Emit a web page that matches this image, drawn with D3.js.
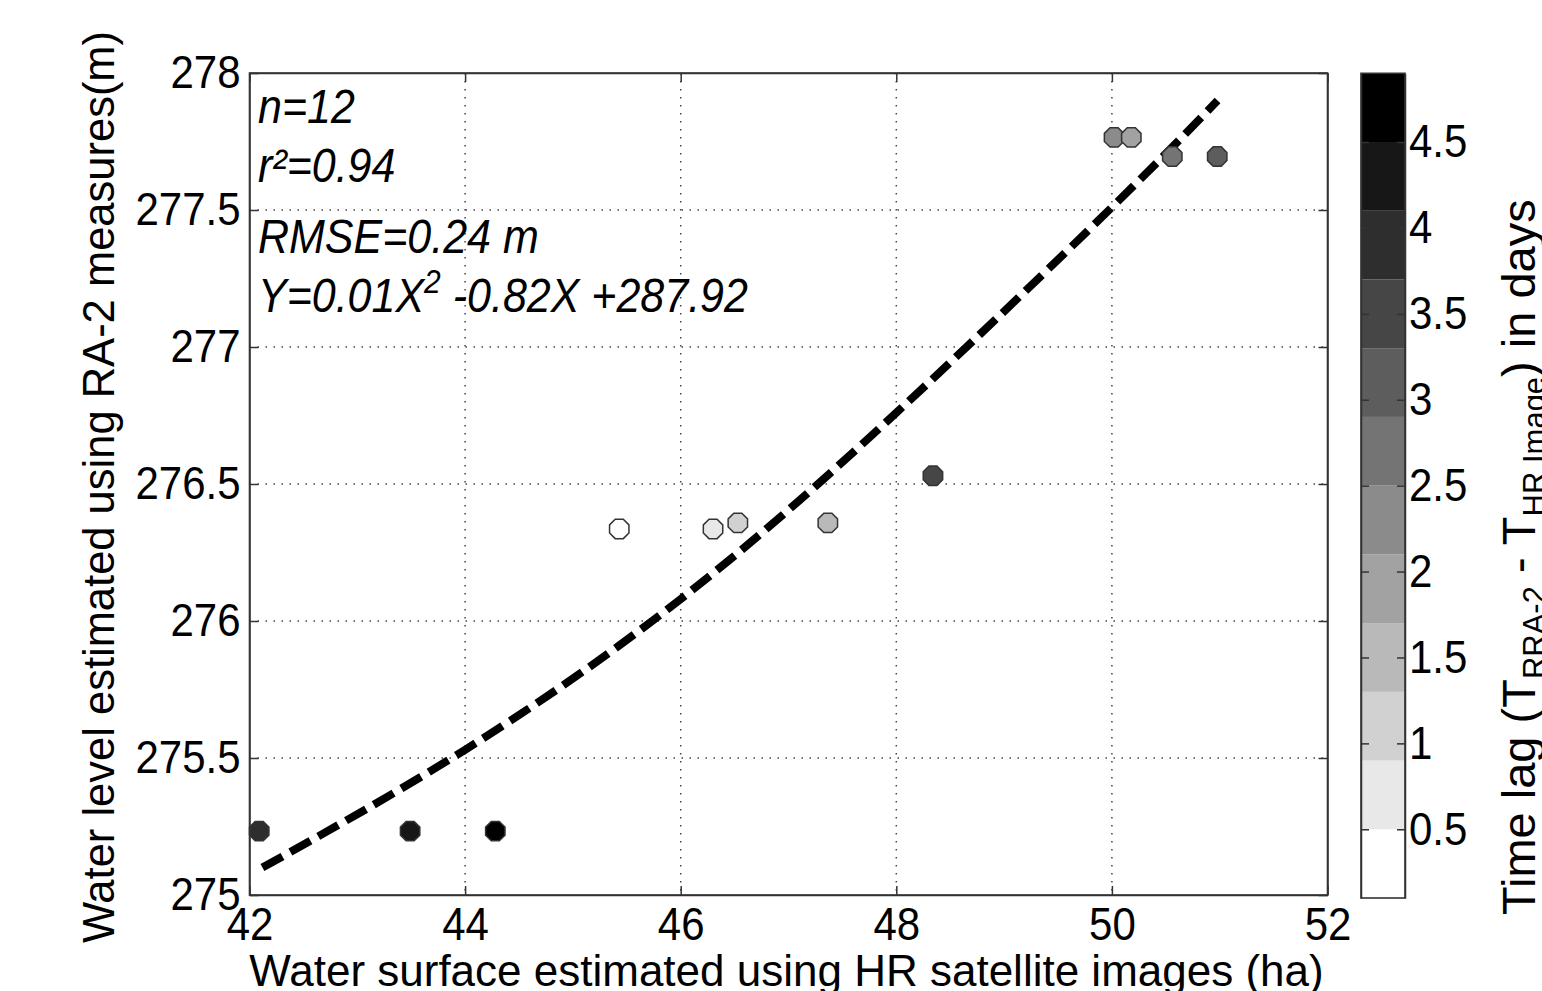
<!DOCTYPE html>
<html lang="en">
  <head>
    <meta charset="UTF-8" />
    <title>Water level vs water surface</title>
    <style>
      body { margin: 0; background: #fff; }
      svg { display: block; font-family: "Liberation Sans", Arial, sans-serif; }
      .axis path, .axis line { stroke: #333; stroke-width: 1.5; }
      .axis text, .stretch { font-size: 42px; fill: #000;
        transform-box: fill-box; transform-origin: center; transform: scaleY(1.1); }
      .grid line { stroke: #444; stroke-width: 1.5; stroke-dasharray: 1.5,6.5; }
    </style>
  </head>
  <body>
    <script src="https://cdn.jsdelivr.net/npm/d3@7/dist/d3.min.js"></script>
    <script>
    // point data
    var surface = [42.09, 43.49, 44.28, 45.43, 46.30, 46.53, 47.365, 48.34, 50.02, 50.18, 50.56, 50.977];
    var level   = [275.233, 275.233, 275.233, 276.336, 276.336, 276.358, 276.358, 276.53, 277.765, 277.765, 277.695, 277.695];
    var timeLag = [3.9, 4.3, 4.7, 0.3, 0.7, 1.1, 1.5, 3.5, 2.3, 1.9, 2.7, 3.1];

    // dashed fit curve
    var fitX = [42.12, 44, 46, 48, 50, 50.98];
    var fitY = [275.10, 275.53, 276.08, 276.76, 277.51, 277.90];

    var xTicks = [42, 44, 46, 48, 50, 52];
    var yTicks = [275, 275.5, 276, 276.5, 277, 277.5, 278];
    var cbTicks = [0.5, 1, 1.5, 2, 2.5, 3, 3.5, 4, 4.5];
    var cbRange = [0.1, 4.9];
    var nLevels = 12;

    var statLines = ["n=12", "r²=0.94", "RMSE=0.24 m"];

    var width = 1542, height = 991;
    var plot = {left: 249.5, right: 1327.5, top: 73, bottom: 895};
    var cb = {left: 1361, right: 1405, top: 73.3, bottom: 898};

    var svg = d3.select("body").append("svg")
                .attr("width", width)
                .attr("height", height);

    var xScale = d3.scaleLinear().domain([42, 52]).range([plot.left, plot.right]);
    var yScale = d3.scaleLinear().domain([275, 278]).range([plot.bottom, plot.top]);

    // 12-step gray colormap, white at low values
    var levelScale = d3.scaleQuantize().domain(cbRange).range(d3.range(nLevels));
    function grayFor(v) {
      var k = levelScale(v);
      var g = Math.round(255 * (1 - k / (nLevels - 1)));
      return d3.rgb(g, g, g).toString();
    }

    // grid
    svg.append("g").attr("class", "grid")
       .selectAll("line").data(xTicks.slice(1, -1)).enter().append("line")
       .attr("x1", function(d) { return xScale(d); })
       .attr("x2", function(d) { return xScale(d); })
       .attr("y1", plot.top).attr("y2", plot.bottom);
    svg.append("g").attr("class", "grid")
       .selectAll("line").data(yTicks.slice(1, -1)).enter().append("line")
       .attr("y1", function(d) { return yScale(d); })
       .attr("y2", function(d) { return yScale(d); })
       .attr("x1", plot.left).attr("x2", plot.right);

    // axes, ticks pointing inward on all four sides
    svg.append("g").attr("class", "axis")
       .attr("transform", "translate(0," + plot.bottom + ")")
       .call(d3.axisBottom(xScale).tickValues(xTicks).tickFormat(d3.format("d"))
             .tickSizeInner(-9).tickSizeOuter(0).tickPadding(14));
    svg.append("g").attr("class", "axis")
       .attr("transform", "translate(0," + plot.top + ")")
       .call(d3.axisTop(xScale).tickValues(xTicks).tickFormat("")
             .tickSizeInner(-9).tickSizeOuter(0));
    svg.append("g").attr("class", "axis")
       .attr("transform", "translate(" + plot.left + ",0)")
       .call(d3.axisLeft(yScale).tickValues(yTicks).tickFormat(function(d) { return String(d); })
             .tickSizeInner(-9).tickSizeOuter(0).tickPadding(9));
    svg.append("g").attr("class", "axis")
       .attr("transform", "translate(" + plot.right + ",0)")
       .call(d3.axisRight(yScale).tickValues(yTicks).tickFormat("")
             .tickSizeInner(-9).tickSizeOuter(0));

    svg.append("rect")
       .attr("x", plot.left).attr("y", plot.top)
       .attr("width", plot.right - plot.left).attr("height", plot.bottom - plot.top)
       .style("fill", "none").style("stroke", "#333").style("stroke-width", 1.6);

    // fit curve
    var fitLine = d3.line()
                    .x(function(d) { return xScale(d[0]); })
                    .y(function(d) { return yScale(d[1]); })
                    .curve(d3.curveNatural);
    svg.append("path")
       .datum(d3.zip(fitX, fitY))
       .attr("d", fitLine)
       .style("fill", "none")
       .style("stroke", "#000")
       .style("stroke-width", 8)
       .style("stroke-dasharray", "23,9");

    // octagon markers
    var octagon = d3.range(8).map(function(i) {
      var a = Math.PI / 8 + i * Math.PI / 4;
      return [10.5 * Math.cos(a), 10.5 * Math.sin(a)];
    });
    svg.append("g").selectAll("path")
       .data(d3.range(surface.length))
       .enter()
       .append("path")
       .attr("transform", function(i) {
         return "translate(" + xScale(surface[i]) + "," + yScale(level[i]) + ")";
       })
       .attr("d", "M" + octagon.join("L") + "Z")
       .style("fill", function(i) { return grayFor(timeLag[i]); })
       .style("stroke", "#333")
       .style("stroke-width", 1.5);

    // stats text
    var stats = svg.append("g").style("font-style", "italic");
    stats.selectAll("text").data(statLines).enter().append("text")
         .attr("class", "stretch")
         .style("font-size", "43px")
         .attr("x", 258)
         .attr("y", function(d, i) { return [122, 181, 252][i]; })
         .text(function(d) { return d; });
    var eq = stats.append("text").attr("class", "stretch")
                  .style("font-size", "43px")
                  .attr("x", 258).attr("y", 310);
    eq.append("tspan").text("Y=0.01X");
    eq.append("tspan").attr("dy", -17).style("font-size", "30px").text("2");
    eq.append("tspan").attr("dy", 17).text(" -0.82X +287.92");

    // axis titles
    svg.append("text")
       .attr("x", (plot.left + plot.right) / 2 - 2)
       .attr("y", 986)
       .attr("text-anchor", "middle")
       .style("font-size", "44px")
       .text("Water surface estimated using HR satellite images (ha)");
    svg.append("text")
       .attr("transform", "translate(114," + ((plot.top + plot.bottom) / 2 + 3) + ") rotate(-90)")
       .attr("text-anchor", "middle")
       .style("font-size", "43.5px")
       .text("Water level estimated using RA-2 measures(m)");

    // colorbar
    var cbScale = d3.scaleLinear().domain(cbRange).range([cb.bottom, cb.top]);
    var step = (cbRange[1] - cbRange[0]) / nLevels;
    svg.append("g").selectAll("rect")
       .data(d3.range(nLevels))
       .enter()
       .append("rect")
       .attr("x", cb.left)
       .attr("width", cb.right - cb.left)
       .attr("y", function(k) { return cbScale(cbRange[0] + (k + 1) * step); })
       .attr("height", function(k) { return cbScale(cbRange[0] + k * step) - cbScale(cbRange[0] + (k + 1) * step); })
       .style("fill", function(k) { return grayFor(cbRange[0] + (k + 0.5) * step); });

    svg.append("g").attr("class", "axis")
       .attr("transform", "translate(" + cb.right + ",0)")
       .call(d3.axisRight(cbScale).tickValues(cbTicks).tickFormat(function(d) { return String(d); })
             .tickSizeInner(-8).tickSizeOuter(0).tickPadding(4));
    svg.append("g").attr("class", "axis")
       .attr("transform", "translate(" + cb.left + ",0)")
       .call(d3.axisLeft(cbScale).tickValues(cbTicks).tickFormat("")
             .tickSizeInner(-8).tickSizeOuter(0));
    svg.append("rect")
       .attr("x", cb.left).attr("y", cb.top)
       .attr("width", cb.right - cb.left).attr("height", cb.bottom - cb.top)
       .style("fill", "none").style("stroke", "#333").style("stroke-width", 1.6);

    var cbLabel = svg.append("text")
       .attr("transform", "translate(1535,915) rotate(-90)")
       .style("font-size", "47px");
    cbLabel.append("tspan").text("Time lag (T");
    cbLabel.append("tspan").attr("dy", 10).style("font-size", "31px").text("RRA-2");
    cbLabel.append("tspan").attr("dy", -10).text(" - T");
    cbLabel.append("tspan").attr("dy", 10).style("font-size", "31px").text("HR Image");
    cbLabel.append("tspan").attr("dy", -10).text(") in days");
    </script>
  </body>
</html>
